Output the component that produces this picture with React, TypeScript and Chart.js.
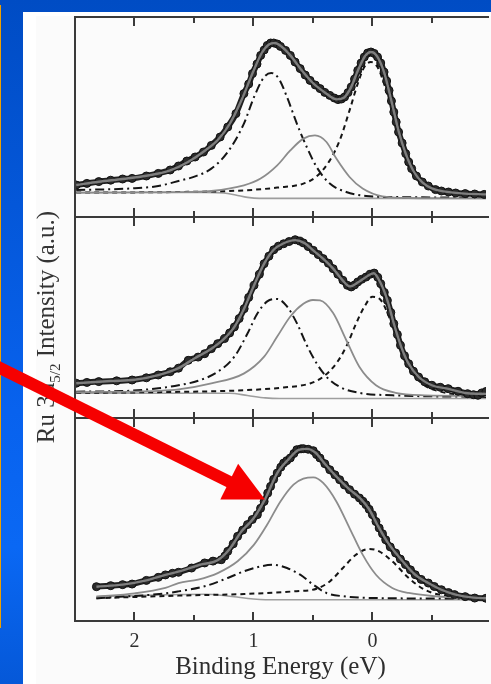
import React, { useEffect, useRef } from 'react';
import { Chart, registerables } from 'chart.js';
Chart.register(...registerables);

type P = [number, number][];

// ---- axis ----
const X_MIN = -0.955;
const X_MAX = 2.5;
const TICK_STEP = 0.5;
const X_TITLE = 'Binding Energy (eV)';
const Y_TITLE_MAIN = 'Ru 3d';
const Y_TITLE_SUB = '5/2';
const Y_TITLE_REST = ' Intensity (a.u.)';

// ---- panel 1 (top) ----
const p1Data: P = [[2.49,16],[2.4,16.8],[2.3,17.7],[2.2,18.4],[2.1,19],[2.02,19.3],[1.9,20.5],[1.8,21.8],[1.7,23.5],[1.63,25.5],[1.56,28],[1.49,30],[1.42,32.5],[1.354,35.8],[1.28,40],[1.216,45],[1.147,51.7],[1.08,61.7],[1.04,66.5],[1.008,71.7],[0.97,76.5],[0.939,80.8],[0.91,83.5],[0.884,85.8],[0.855,87],[0.829,87],[0.8,86.5],[0.773,85.3],[0.73,83.3],[0.69,80.8],[0.65,77.5],[0.607,74.2],[0.565,71],[0.524,68.3],[0.48,66],[0.44,64.2],[0.4,62.3],[0.358,60.8],[0.32,59.5],[0.289,58.7],[0.26,59],[0.234,60],[0.205,62.2],[0.178,65],[0.15,69],[0.123,73.3],[0.095,77],[0.068,80],[0.04,82],[0.012,82.5],[-0.015,81.8],[-0.043,80],[-0.07,77],[-0.098,72.5],[-0.12,68],[-0.14,63.3],[-0.16,58],[-0.18,52.5],[-0.2,47.5],[-0.22,42.5],[-0.25,37],[-0.28,31.7],[-0.305,27.5],[-0.33,24.2],[-0.37,20.5],[-0.42,17.5],[-0.47,15.5],[-0.53,13.7],[-0.58,13],[-0.64,12.5],[-0.7,12],[-0.78,11.7],[-0.86,11.5],[-0.94,11.3]];
const p1Fit: P = [[2.49,16],[2.3,17.6],[2.1,19],[1.9,20.6],[1.7,23.3],[1.55,27.5],[1.4,33.5],[1.3,38.5],[1.2,46.5],[1.1,58.5],[1.0,73],[0.93,82],[0.87,86.3],[0.82,87],[0.76,85],[0.69,80.8],[0.6,73.8],[0.5,67],[0.4,62.3],[0.3,58.8],[0.24,59.6],[0.18,64.8],[0.12,73.5],[0.06,80.6],[0.01,82.5],[-0.04,80.3],[-0.1,72],[-0.16,58],[-0.22,43],[-0.28,31.7],[-0.35,22.5],[-0.42,17.3],[-0.5,14.3],[-0.6,12.8],[-0.75,11.8],[-0.955,11.3]];
const p1DashDot: P = [[2.49,13.5],[2.02,14.3],[1.8,15.5],[1.63,18],[1.49,20.3],[1.354,24.2],[1.216,32.5],[1.08,46.7],[0.995,60],[0.91,70],[0.85,72],[0.787,69.2],[0.718,60],[0.635,46.7],[0.552,35],[0.469,25],[0.358,16.7],[0.22,12.5],[0.054,10.5],[-0.167,10],[-0.955,9.7]];
const p1Gray: P = [[2.49,12.2],[1.6,12.4],[1.354,13],[1.08,15.8],[0.94,19.2],[0.8,25.8],[0.69,33.3],[0.58,39.2],[0.483,40.8],[0.386,37.5],[0.303,29.2],[0.192,20],[0.082,14.2],[-0.084,10.3],[-0.3,9.5],[-0.955,9.3]];
const p1Dashed: P = [[2.49,12.2],[1.63,12.5],[1.08,13.3],[0.8,14.7],[0.58,16.7],[0.469,20.3],[0.358,28.3],[0.275,38.3],[0.192,53.3],[0.123,66.7],[0.068,75],[0.012,77.5],[-0.043,75],[-0.098,66.7],[-0.195,47],[-0.3,26],[-0.42,16.5],[-0.58,12],[-0.86,10.8],[-0.955,10.6]];
const p1Bg: P = [[2.49,12.2],[1.4,12.3],[1.25,12],[1.15,11],[1.05,9.8],[0.95,9.3],[-0.955,9.3]];

// ---- panel 2 (middle) ----
const p2Data: P = [[2.49,17.3],[2.4,17.7],[2.3,18.1],[2.15,18.5],[2.02,18.9],[1.9,20],[1.8,21.4],[1.7,23],[1.63,24.8],[1.548,28.7],[1.465,30.3],[1.41,32],[1.354,34.5],[1.3,37],[1.243,39.5],[1.2,42.3],[1.16,45.3],[1.12,49.5],[1.078,54.4],[1.04,60],[0.995,66],[0.95,71.5],[0.91,76.8],[0.87,80.5],[0.829,83.7],[0.79,85.5],[0.746,86.7],[0.7,87.8],[0.649,88.7],[0.61,88],[0.58,87.1],[0.54,85.3],[0.497,83.4],[0.455,81.3],[0.414,79.3],[0.37,77],[0.33,74.3],[0.29,71.5],[0.248,68.5],[0.21,66],[0.178,65.2],[0.15,66.2],[0.123,67.7],[0.09,69],[0.054,70.1],[0.02,71.5],[-0.015,72.1],[-0.045,70],[-0.07,66.8],[-0.1,62.5],[-0.126,58.5],[-0.155,52.5],[-0.18,46.9],[-0.21,41.5],[-0.236,36.2],[-0.27,31],[-0.305,27],[-0.345,23.3],[-0.388,20.4],[-0.44,18],[-0.5,16.3],[-0.57,15.3],[-0.637,14.6],[-0.72,13.3],[-0.8,12.1],[-0.85,11.6],[-0.887,11.3],[-0.92,12.5],[-0.955,13.2]];
const p2Fit: P = [[2.49,17.3],[2.2,18.4],[2.0,19],[1.8,21.3],[1.63,24.8],[1.5,29.5],[1.35,34.6],[1.25,39.2],[1.16,45.3],[1.08,54.2],[1.0,65.3],[0.91,76.8],[0.83,83.7],[0.75,86.8],[0.65,88.5],[0.57,87],[0.5,83.5],[0.41,79],[0.33,74.3],[0.25,68.5],[0.19,65.5],[0.12,67.5],[0.05,70.3],[-0.01,72],[-0.07,67],[-0.13,57.8],[-0.18,47],[-0.24,35.8],[-0.3,27.5],[-0.39,20.4],[-0.5,16.3],[-0.64,14.5],[-0.8,12.3],[-0.955,12]];
const p2DashDot: P = [[2.49,13.1],[2.02,13.6],[1.8,14.8],[1.63,16.3],[1.465,18.5],[1.3,23],[1.16,30.5],[1.05,42],[0.967,52],[0.884,58],[0.8,59.2],[0.718,55.5],[0.635,47.2],[0.552,36.3],[0.469,27.2],[0.386,20.5],[0.275,15.5],[0.11,12.5],[-0.167,11.3],[-0.955,10.5]];
const p2Gray: P = [[2.49,12.8],[1.8,13.5],[1.63,14.2],[1.354,17.2],[1.078,22.2],[0.91,30.5],[0.8,40.5],[0.69,50.5],[0.58,56.8],[0.5,58.7],[0.44,58.5],[0.33,52.2],[0.22,38.8],[0.11,25.5],[-0.03,16.3],[-0.195,12.5],[-0.44,11.3],[-0.955,11]];
const p2Dashed: P = [[2.49,12.5],[1.63,13],[1.078,13.8],[0.746,15.2],[0.524,17.2],[0.414,20.5],[0.303,27.2],[0.22,35.5],[0.137,47],[0.068,55.3],[0,60.3],[-0.07,58.7],[-0.14,50.3],[-0.22,37],[-0.305,25.5],[-0.416,17.2],[-0.58,13],[-0.86,11.3],[-0.955,11]];
const p2Bg: P = [[2.49,12.3],[1.2,12.3],[1.05,11.2],[0.9,10],[0.78,9.7],[-0.955,9.7]];

// ---- panel 3 (bottom) ----
const p3Data: P = [[2.32,16.9],[2.2,17.4],[2.1,17.9],[2.02,18.2],[1.9,20],[1.8,21.5],[1.74,22.7],[1.68,23.5],[1.63,24],[1.52,26.1],[1.41,28.6],[1.34,29.5],[1.27,30.2],[1.24,32],[1.216,34.3],[1.17,38],[1.133,41.7],[1.09,44.8],[1.05,47.5],[1.01,50],[0.967,52.4],[0.94,55.5],[0.91,58.9],[0.88,63],[0.856,66.3],[0.83,69.8],[0.8,72.9],[0.77,75.8],[0.746,77.8],[0.72,79],[0.69,80.3],[0.66,82.5],[0.635,84.4],[0.6,84.8],[0.58,84.9],[0.54,84.6],[0.497,83.9],[0.47,82],[0.441,80.3],[0.4,77.5],[0.358,74.5],[0.315,72],[0.275,69.6],[0.235,67],[0.192,64.7],[0.15,62.5],[0.109,60.6],[0.08,59],[0.054,57.3],[0.027,55],[0,52.4],[-0.03,49],[-0.057,45.8],[-0.085,43],[-0.112,40],[-0.15,36.5],[-0.195,33.5],[-0.235,30.5],[-0.278,27.8],[-0.32,25.2],[-0.36,22.8],[-0.41,20.5],[-0.47,18.7],[-0.52,17],[-0.58,15.4],[-0.64,14],[-0.69,13],[-0.78,12],[-0.86,11.3],[-0.955,11.2]];
const p3Fit: P = [[2.32,16.9],[2.1,17.9],[1.9,20],[1.74,22.7],[1.6,24.8],[1.45,27.7],[1.3,30],[1.2,35.5],[1.1,44.2],[1.0,50.5],[0.9,60.3],[0.8,72.9],[0.7,80],[0.62,84.3],[0.55,84.8],[0.48,83],[0.4,77.5],[0.3,71],[0.2,65.2],[0.1,60.3],[0.03,55.3],[-0.05,46.5],[-0.12,39.5],[-0.2,33.2],[-0.28,27.7],[-0.36,22.8],[-0.47,18.7],[-0.58,15.4],[-0.7,13],[-0.85,11.5],[-0.955,11.2]];
const p3DashDot: P = [[2.32,11.2],[1.74,13.6],[1.63,14.6],[1.41,17.1],[1.216,21.2],[1.078,24.5],[0.94,26.9],[0.829,27.7],[0.718,26.1],[0.607,22.8],[0.497,17.9],[0.386,13.8],[0.248,12.2],[-0.03,11.3],[-0.955,11]];
const p3Gray: P = [[2.32,12],[2.0,13.6],[1.74,16.3],[1.63,18.7],[1.465,20.4],[1.3,23.6],[1.133,29.4],[0.995,37.6],[0.884,47.5],[0.773,58.9],[0.663,67.2],[0.58,70.1],[0.497,70.8],[0.414,68],[0.303,58.9],[0.192,45.8],[0.082,32.7],[-0.03,22.8],[-0.167,16.3],[-0.305,13.8],[-0.53,12.2],[-0.86,11.3],[-0.955,11.2]];
const p3Dashed: P = [[2.32,11.2],[1.63,12.5],[1.078,13.3],[0.663,14.6],[0.469,15.9],[0.358,19.5],[0.248,26.1],[0.137,32.7],[0.026,35.5],[-0.057,34.3],[-0.167,29.4],[-0.305,21.2],[-0.44,15.4],[-0.636,12.2],[-0.91,11.3],[-0.955,11.2]];
const p3Bg: P = [[2.32,12],[1.4,13.2],[1.2,12.2],[1.0,10.8],[0.9,10.5],[-0.955,10.5]];

interface Panel { data: P; fit: P; dashDot: P; gray: P; dashed: P; bg: P; }
const PANELS: Panel[] = [
  { data: p1Data, fit: p1Fit, dashDot: p1DashDot, gray: p1Gray, dashed: p1Dashed, bg: p1Bg },
  { data: p2Data, fit: p2Fit, dashDot: p2DashDot, gray: p2Gray, dashed: p2Dashed, bg: p2Bg },
  { data: p3Data, fit: p3Fit, dashDot: p3DashDot, gray: p3Gray, dashed: p3Dashed, bg: p3Bg },
];

const SERIF = '"Liberation Serif", "Times New Roman", "DejaVu Serif", serif';
const FRAME = '#3a3a3a';

const framePlugin = {
  id: 'frame',
  afterDraw(chart: any) {
    const { ctx, chartArea } = chart;
    const { left, right, top, bottom } = chartArea;
    const xs = chart.scales.x;
    ctx.save();
    ctx.strokeStyle = FRAME;
    ctx.lineWidth = 2;
    ctx.beginPath();
    ctx.moveTo(right + 3, top);
    ctx.lineTo(left, top);
    ctx.lineTo(left, bottom);
    ctx.lineTo(right + 3, bottom);
    ctx.stroke();
    for (const t of xs.ticks) {
      const v = t.value;
      if (v <= X_MIN + 0.02 || v >= X_MAX - 0.02) continue;
      const px = Math.round(xs.getPixelForValue(v));
      const len = Number.isInteger(v) ? 9 : 6;
      ctx.beginPath();
      ctx.moveTo(px, top);
      ctx.lineTo(px, top + len);
      ctx.moveTo(px, bottom);
      ctx.lineTo(px, bottom - len);
      ctx.stroke();
    }
    ctx.restore();
  },
};

function makeChart(canvas: HTMLCanvasElement, s: Panel, bottomAxis: boolean) {
  const mk = (p: P) => p.map(([x, y]) => ({ x, y }));
  const line = (d: P, color: string, width: number, dash: number[], order: number) => ({
    data: mk(d),
    showLine: true,
    borderColor: color,
    borderWidth: width,
    borderDash: dash,
    pointRadius: 0,
    cubicInterpolationMode: 'monotone',
    fill: false,
    order,
  });
  return new Chart(canvas, {
    type: 'scatter',
    data: {
      datasets: [
        line(s.bg, '#9e9e9e', 1.6, [], 6),
        line(s.dashed, '#151515', 2, [5, 4], 5),
        line(s.dashDot, '#151515', 2, [9, 4, 2, 4], 4),
        line(s.gray, '#8c8c8c', 1.8, [], 3),
        {
          data: mk(s.data),
          showLine: true,
          borderColor: '#202020',
          borderWidth: 6,
          pointRadius: 4,
          pointBackgroundColor: '#2a2a2a',
          pointBorderColor: '#111',
          pointBorderWidth: 1,
          cubicInterpolationMode: 'monotone',
          order: 2,
        },
        line(s.fit, '#7e7e7e', 2.4, [], 1),
      ] as any,
    },
    options: {
      animation: false,
      responsive: false,
      devicePixelRatio: 1,
      events: [],
      layout: { padding: { left: 75, right: 0, top: 6, bottom: bottomAxis ? 0 : 6 } },
      plugins: { legend: { display: false }, tooltip: { enabled: false } },
      scales: {
        x: {
          type: 'linear',
          min: X_MIN,
          max: X_MAX,
          reverse: true,
          display: true,
          afterFit: (scale: any) => { scale.height = bottomAxis ? 63 : 0; },
          grid: { display: false, drawTicks: false },
          border: { display: false },
          ticks: {
            display: bottomAxis,
            stepSize: TICK_STEP,
            includeBounds: false,
            autoSkip: false,
            maxRotation: 0,
            padding: 9,
            color: '#2e2e2e',
            font: { family: SERIF, size: 20 },
            callback: (v: any) => (Number.isInteger(v) ? String(v) : ''),
          },
          title: {
            display: bottomAxis,
            text: X_TITLE,
            color: '#2e2e2e',
            font: { family: SERIF, size: 25 },
            padding: { top: 0, bottom: 2 },
          },
        },
        y: { type: 'linear', display: false, min: 0, max: 100 },
      },
    } as any,
    plugins: [framePlugin],
  });
}

export default function App() {
  const c1 = useRef<HTMLCanvasElement>(null);
  const c2 = useRef<HTMLCanvasElement>(null);
  const c3 = useRef<HTMLCanvasElement>(null);

  useEffect(() => {
    const charts = [
      makeChart(c1.current!, PANELS[0], false),
      makeChart(c2.current!, PANELS[1], false),
      makeChart(c3.current!, PANELS[2], true),
    ];
    return () => charts.forEach((c) => c.destroy());
  }, []);

  const abs = (l: number, t: number): React.CSSProperties => ({ position: 'absolute', left: l, top: t });

  return (
    <div
      style={{
        position: 'fixed', left: 0, top: 0, width: 491, height: 684, overflow: 'hidden',
        background: 'linear-gradient(to bottom, #004cc4 0%, #0862ee 60%, #0a68f4 80%, #0558d8 100%)',
      }}
    >
      <div style={{ ...abs(0, 5), width: 1, height: 623, background: '#eea000' }} />
      <div style={{ ...abs(23, 12), width: 468, height: 672, background: '#ffffff' }} />
      <div style={{ ...abs(36, 16), width: 455, height: 668, background: '#fbfbfb' }} />
      <canvas ref={c1} width={491} height={212} style={{ ...abs(0, 11), width: 491, height: 212 }} />
      <canvas ref={c2} width={491} height={213} style={{ ...abs(0, 211), width: 491, height: 213 }} />
      <canvas ref={c3} width={491} height={272} style={{ ...abs(0, 412), width: 491, height: 272 }} />
      <div
        style={{
          ...abs(45, 327), transform: 'translate(-50%, -50%) rotate(-90deg)', whiteSpace: 'nowrap',
          fontFamily: SERIF, fontSize: 25, color: '#333', lineHeight: 1,
        }}
      >
        {Y_TITLE_MAIN}
        <span style={{ fontSize: 15, position: 'relative', top: 6 }}>{Y_TITLE_SUB}</span>
        {Y_TITLE_REST}
      </div>
      <svg width={491} height={684} style={{ ...abs(0, 0), pointerEvents: 'none' }}>
        <line x1={-5} y1={365.5} x2={232} y2={483.2} stroke="#f60000" strokeWidth={12} />
        <polygon points="265,499.5 220.3,499.6 238.1,463.8" fill="#f60000" />
      </svg>
    </div>
  );
}
